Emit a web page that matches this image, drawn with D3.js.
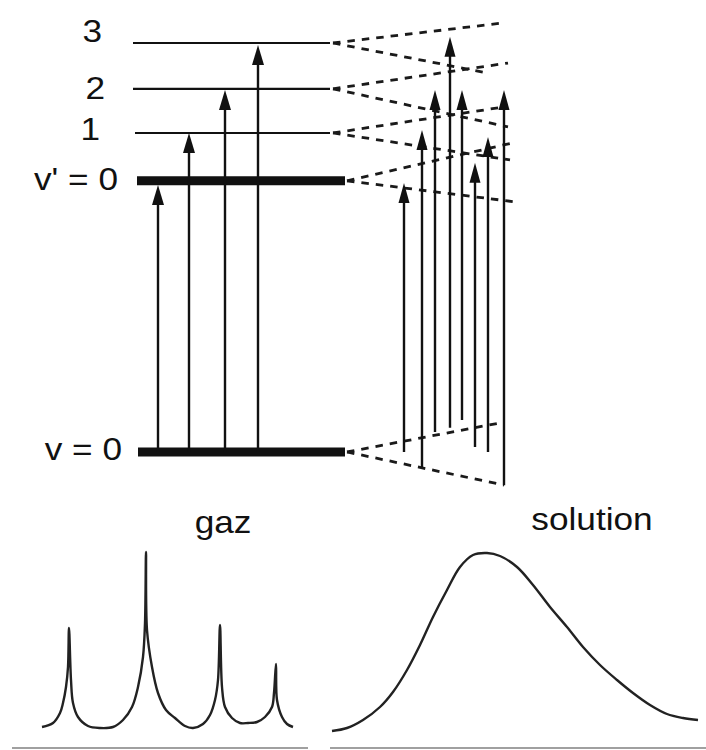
<!DOCTYPE html>
<html>
<head>
<meta charset="utf-8">
<script src="https://cdn.jsdelivr.net/npm/d3@7"></script>
<style>
  html, body { margin: 0; padding: 0; background: #fff; }
  svg { display: block; }
  text { font-family: "Liberation Sans", Arial, Helvetica, sans-serif; fill: #111; }
</style>
</head>
<body>
<svg id="chart" width="706" height="750"></svg>
<script>
// ---------------- DATA ----------------
// Vibrational levels (energy in arbitrary units, v=0 of ground state = 0)
const levelLabels  = ["v = 0", "v' = 0", "1", "2", "3"];
const levelEnergy  = [0, 66.3, 78.0, 88.8, 100];
const levelStartX  = [138, 137, 135, 133, 133];
const levelEndX    = [345, 345, 330, 330, 330];
const levelThick   = [true, true, false, false, false];

// Solvent-broadened fans of each level: upper / lower end (x, energy)
const fanUpX  = [504, 513, 505, 508, 503];
const fanUpE  = [7.3, 75.6, 84.4, 95.1, 104.9];
const fanLoX  = [504, 517, 510, 508, 487];
const fanLoE  = [-8.1, 61.1, 71.4, 79.5, 92.7];

// Gas-phase transitions (x position, start / end energy)
const gasArrowX     = [158, 189, 225, 258];
const gasArrowFrom  = [0, 0, 0, 0];
const gasArrowTo    = [65.3, 78.0, 88.5, 99.5];

// Solution transitions
const solArrowX     = [404, 422, 435, 450, 462, 475, 488, 504];
const solArrowFrom  = [0, -3.7, 4.9, 5.9, 7.8, 1.2, 0, -8.1];
const solArrowTo    = [65.8, 78.7, 88.5, 101.5, 88.5, 70.7, 77.0, 88.5];

// Gas spectrum (x, intensity)
const gasSpecX = [42,53,60,63,66,68,69,71,73,78,88,100,113,123,132,138,143,145,146,147,152,158,166,175,185,193,203,210,215,218,220,222,225,232,240,248,257,265,272,274,276,277,282,287,293];
const gasSpecI = [10.5,12.5,17.5,22.5,30.5,40.5,60,34,22.5,15.5,11,10,10.5,14,20.5,30.5,45.5,62.5,98,59,40.5,27.5,19,15,11,10,12,16.5,24,34,61.5,30.5,20.5,15,12.5,12.5,13,15.5,20.5,27.5,42,24,15.5,12,10.5];

// Solution spectrum (x, intensity)
const solSpecX = [332,347,363,380,393,407,420,433,447,460,473,487,500,517,533,550,567,583,600,617,633,650,667,683,698];
const solSpecI = [8.5,10,14,20.5,28,39,51.5,65.5,79,90.5,96.5,97.5,96,90.5,81.5,70.5,60.5,50.5,41.5,34,27.5,21.5,17,15,14];

const panelTitles = ["gaz", "solution"];
const panelTitleX = [223, 592];
const panelBaseX0 = [12, 330];
const panelBaseX1 = [308, 706];

// ---------------- SCALES ----------------
const svg = d3.select("#chart");
const x  = d3.scaleLinear().domain([0, 706]).range([0, 706]);
const yE = d3.scaleLinear().domain([0, 100]).range([452, 43]);     // energy diagram
const yS = d3.scaleLinear().domain([0, 100]).range([748, 548]);    // spectra

const ink = "#111";

// ---------------- LEVELS ----------------
const levels = levelEnergy.map((e, i) => ({
  e, label: levelLabels[i], x0: levelStartX[i], x1: levelEndX[i], thick: levelThick[i],
  ux: fanUpX[i], ue: fanUpE[i], lx: fanLoX[i], le: fanLoE[i]
}));

// dashed fans
const gFan = svg.append("g");
levels.forEach(l => {
  [[l.ux, l.ue], [l.lx, l.le]].forEach(([ex, ee]) => {
    gFan.append("line")
      .attr("x1", x(l.x1 + (l.thick ? 2 : 3))).attr("y1", yE(l.e))
      .attr("x2", x(ex)).attr("y2", yE(ee))
      .attr("stroke", "#1a1a1a").attr("stroke-width", 2.8)
      .attr("stroke-dasharray", "7.5,7");
  });
});

// level lines
svg.append("g").selectAll("line").data(levels).join("line")
  .attr("x1", d => x(d.x0)).attr("x2", d => x(d.x1))
  .attr("y1", d => yE(d.e)).attr("y2", d => yE(d.e))
  .attr("stroke", ink).attr("stroke-width", d => d.thick ? 9 : 2.2);

// labels
const labelRight = [122, 118, 100, 105, 102];
const labelBase  = [460, 190, 140, 99, 42];
svg.append("g").selectAll("text").data(levels).join("text")
  .attr("text-anchor", "end")
  .attr("font-size", 32)
  .attr("transform", (d, i) => `translate(${labelRight[i]},${labelBase[i]}) scale(1.1,1)`)
  .text(d => d.label);

// ---------------- ARROWS ----------------
function drawArrows(xs, from, to, head, hw) {
  const g = svg.append("g");
  xs.forEach((xv, i) => {
    const tip = yE(to[i]);
    g.append("line")
      .attr("x1", x(xv)).attr("x2", x(xv))
      .attr("y1", yE(from[i])).attr("y2", tip + head - 2)
      .attr("stroke", ink).attr("stroke-width", 2.4);
    g.append("path")
      .attr("d", `M${x(xv)},${tip} L${x(xv) - hw},${tip + head} L${x(xv) + hw},${tip + head} Z`)
      .attr("fill", ink);
  });
}
drawArrows(gasArrowX, gasArrowFrom, gasArrowTo, 20, 6);
drawArrows(solArrowX, solArrowFrom, solArrowTo, 20, 5.5);

// ---------------- SPECTRA ----------------
const line = d3.line().x(d => x(d[0])).y(d => yS(d[1])).curve(d3.curveCatmullRom.alpha(0.5));
svg.append("path")
  .datum(gasSpecX.map((v, i) => [v, gasSpecI[i]]))
  .attr("d", line).attr("fill", "none").attr("stroke", "#222").attr("stroke-width", 2.4)
  .attr("stroke-linejoin", "round");
svg.append("path")
  .datum(solSpecX.map((v, i) => [v, solSpecI[i]]))
  .attr("d", line).attr("fill", "none").attr("stroke", "#222").attr("stroke-width", 2.4);

// baselines
panelTitles.forEach((t, i) => {
  svg.append("line")
    .attr("x1", x(panelBaseX0[i])).attr("x2", x(panelBaseX1[i]))
    .attr("y1", yS(0)).attr("y2", yS(0))
    .attr("stroke", "#a0a0a0").attr("stroke-width", 2);
});

// titles
const titleBase = [533, 530];
svg.append("g").selectAll("text").data(panelTitles).join("text")
  .attr("text-anchor", "middle")
  .attr("font-size", 32)
  .attr("transform", (d, i) => `translate(${panelTitleX[i]},${titleBase[i]}) scale(1.1,1)`)
  .text(d => d);
</script>
</body>
</html>
